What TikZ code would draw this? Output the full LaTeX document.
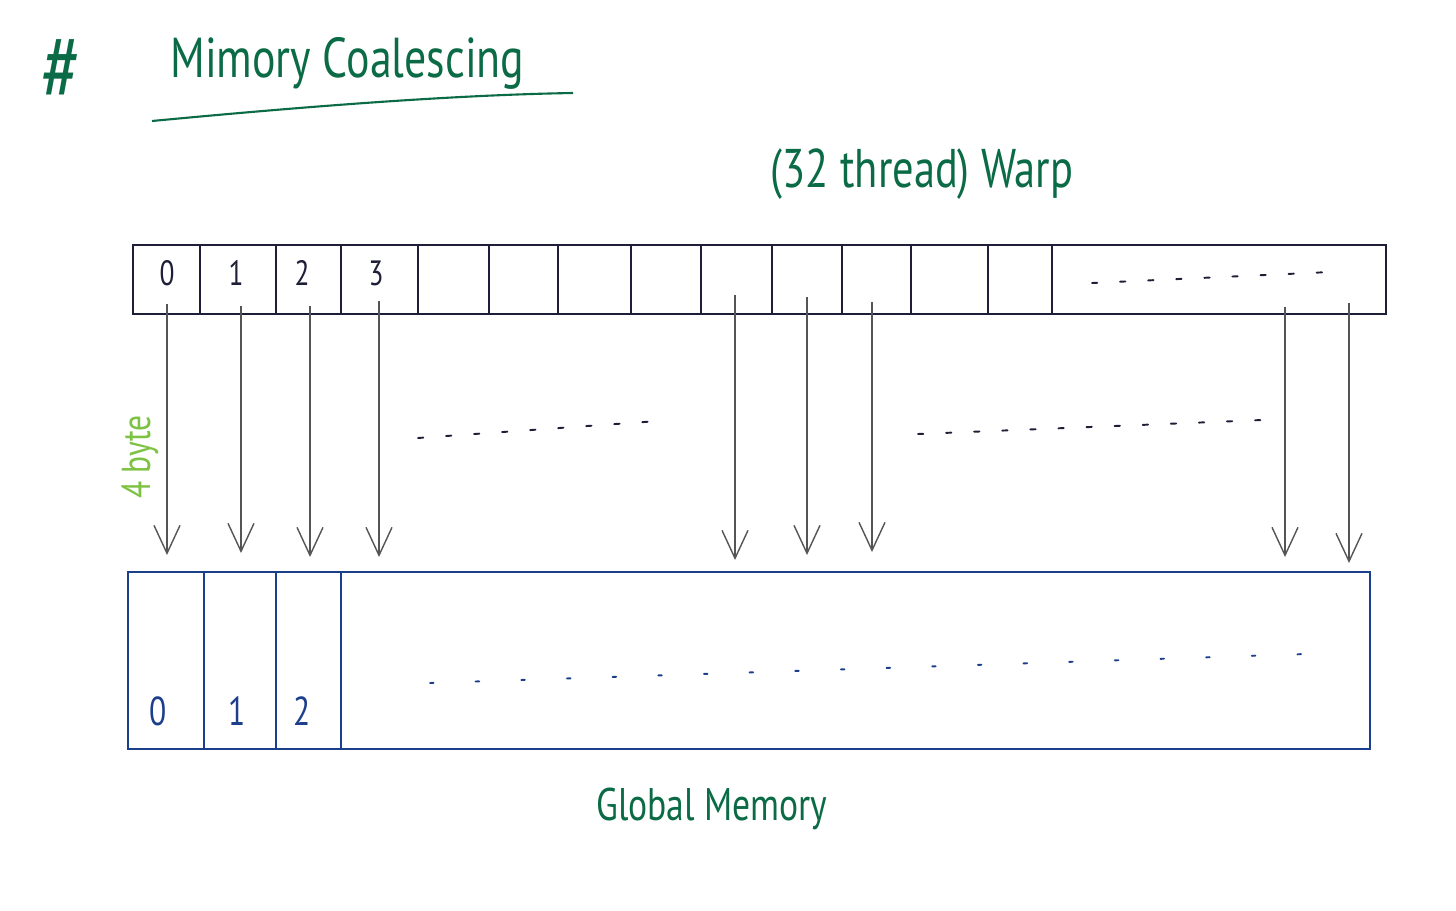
\documentclass[tikz,border=0pt]{standalone}
\usepackage{fontspec}
\usepackage{xcolor}
\usepackage{tikz}
\usetikzlibrary{arrows.meta,positioning}
\newfontfamily\hand[FakeStretch=0.78]{PT Sans}
\definecolor{MCGreen}{HTML}{0B6B46}
\definecolor{MCLime}{HTML}{7DC242}
\definecolor{MCInk}{HTML}{1E1E38}
\definecolor{MCGray}{HTML}{555555}
\definecolor{MCBlue}{HTML}{1C3F8C}

\begin{document}
\begin{tikzpicture}[
  x=0.02cm,y=-0.02cm,
  title/.style={text=MCGreen,font=\hand\fontsize{32}{35}\selectfont,inner sep=0pt},
  warpbox/.style={draw=MCInk,line width=1.1pt,minimum width=25.06cm,minimum height=1.38cm,inner sep=0pt,outer sep=0pt},
  membox/.style={draw=MCBlue,line width=1.1pt,minimum width=24.84cm,minimum height=3.54cm,inner sep=0pt,outer sep=0pt},
  warpline/.style={draw=MCInk,line width=1pt},
  memline/.style={draw=MCBlue,line width=1pt},
  cell/.style={text=MCInk,font=\hand\fontsize{20}{22}\selectfont,inner sep=0pt},
  slot/.style={text=MCBlue,font=\hand\fontsize{23}{25}\selectfont,inner sep=0pt},
  arr/.style={-{Straight Barb[length=5.6mm,width=5.2mm]},line width=0.8pt,draw=MCGray},
  scribble/.style={line width=1.1pt,line cap=round,dash pattern=on 3pt off 13pt}
]
\fill[white] (0,0) rectangle (1456,910);
\useasboundingbox (0,0) rectangle (1456,910);

% heading
\node[title,font=\hand\fontsize{54}{58}\selectfont] (hash) at (62,70) {\#};
\node[title,anchor=base west] (head) at (170,77) {Mimory Coalescing};
\draw[MCGreen,line width=1.2pt] (152,121) .. controls (300,107) and (450,95) .. (573,93);
\node[title,font=\hand\fontsize{31}{34}\selectfont] (warplabel) at (922,174) {(32 thread) Warp};

% warp of threads
\node[warpbox] (warp) at (759.5,279.5) {};
\foreach \x in {200,276,341,418,489,558,631,701,772,842,911,988,1052}
  \draw[warpline] (\x,245) -- (\x,314);
\foreach \n/\x in {0/167,1/236,2/302,3/376}
  \node[cell] (t\n) at (\x,273) {\n};
\draw[scribble,MCInk] (1092,283) -- (1330,272);

% global memory
\node[membox] (mem) at (749,660.5) {};
\foreach \x in {204,276,341}
  \draw[memline] (\x,572) -- (\x,749);
\foreach \n/\x in {0/158,1/237,2/302}
  \node[slot] (m\n) at (\x,711) {\n};
\draw[scribble,MCBlue,dash pattern=on 2pt off 24pt] (430,683) -- (1306,654);
\node[title,font=\hand\fontsize{26}{28}\selectfont,anchor=base] (memlabel) at (712,820) {Global Memory};

% loads
\foreach \x/\ys/\ye [count=\i] in {167/304/555,241/306/553,310/306/557,379/301/557,735/295/560,807/297/555,872/302/552,1285/307/557,1349/303/563} {
  \coordinate (s\i) at (\x,\ys);
  \coordinate (e\i) at (\x,\ye);
  \draw[arr] (s\i) -- (e\i);
}
\draw[scribble,MCInk] (418,438) -- (658,421);
\draw[scribble,MCInk] (918,434) -- (1262,420);
\node[text=MCLime,font=\hand\fontsize{23}{25}\selectfont,rotate=90,inner sep=0pt] (size) at (140,457) {4 byte};
\end{tikzpicture}
\end{document}
